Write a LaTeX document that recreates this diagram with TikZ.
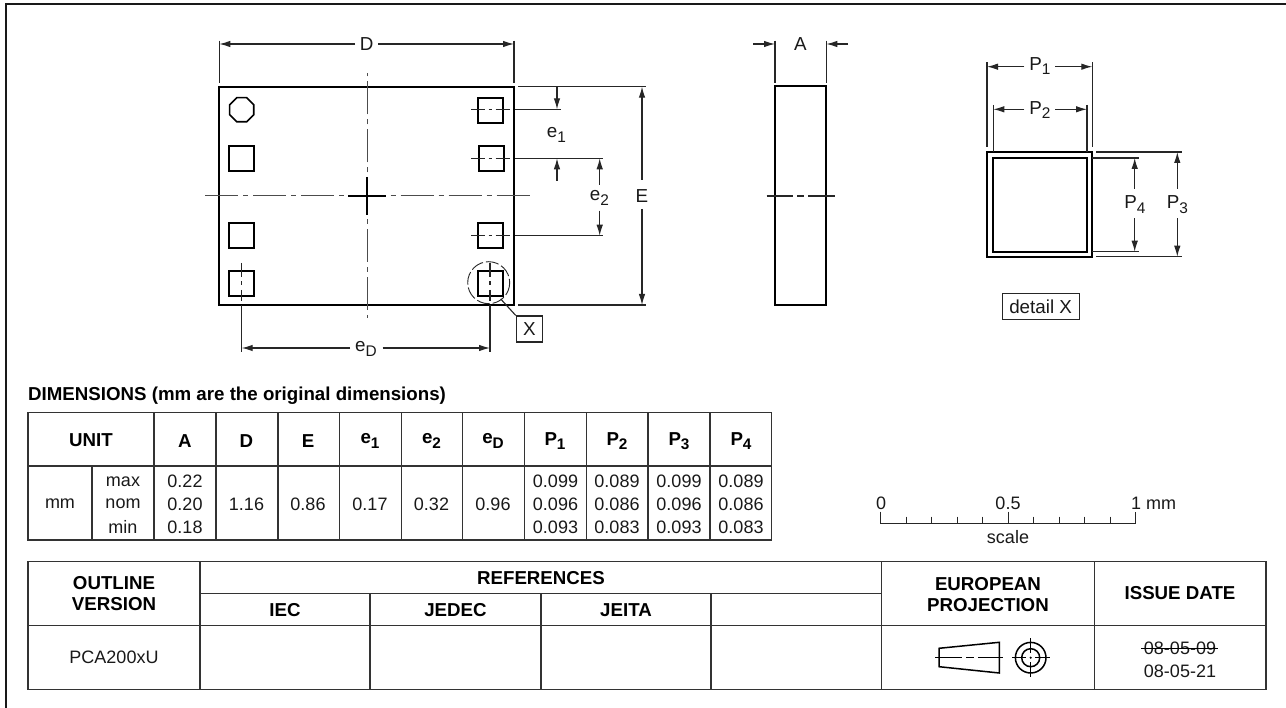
\documentclass[tikz,border=0pt]{standalone}
\usepackage{fontspec}
\setmainfont{Liberation Sans}
\usetikzlibrary{arrows.meta,shapes.geometric}
\tikzset{
  x=1pt,y=-1pt,
  body/.style={line width=1.7pt,draw=black},
  thin line/.style={line width=1.1pt,draw=black!85},
  rule/.style={line width=1.2pt,draw=black!80},
  dim/.style={line width=1.1pt,draw=black!85,-{Latex[length=11pt,width=6.5pt]}},
  centre/.style={line width=1pt,draw=black!70,dash pattern=on 33pt off 5pt on 5pt off 5pt,dash phase=14.5pt},
  lab/.style={inner sep=0pt,font=\fontsize{18.8}{22}\selectfont,text=black!90},
  cell/.style={inner sep=0pt,font=\fontsize{18}{21}\selectfont,text=black!90},
  hcell/.style={inner sep=0pt,font=\fontsize{18.7}{21}\selectfont\bfseries,text=black},
}
\newcommand{\sbs}[1]{\raisebox{-0.25em}{\fontsize{0.82em}{1em}\selectfont #1}}
\begin{document}
\begin{tikzpicture}
\useasboundingbox (0,0) rectangle (1286,708);
\fill[white] (0,0) rectangle (1286,708);
% frame
\draw[line width=2pt,black!90] (6,708) -- (6,4.5) -- (1286,4.5);
% package
\draw[body] (219.3,86.7) rectangle (514,305);
\node[regular polygon,regular polygon sides=8,draw=black,line width=1.6pt,minimum size=26pt,inner sep=0pt] (oct) at (241.7,109.7) {};
\foreach \n/\xa/\ya in {l2/229/145.7,l3/229/223.3,l4/229/270.7,r1/477.7/97.7,r2/478.7/145.7,r3/477.7/223.3,r4/477.7/270.7}{
  \draw[body] (\xa,\ya) rectangle ++(25.3,25);
}
% centre lines
\draw[centre] (367,196) -- (203,196);
\draw[centre] (367,196) -- (530,196);
\draw[centre] (367,196) -- (367,73);
\draw[centre] (367,196) -- (367,318);
\draw[line width=1.7pt,black] (348.3,196) -- (385.5,196);
\draw[line width=1.7pt,black] (367,177) -- (367,215);
% pad lines horizontal
\foreach \y/\e in {109.3/561,158.3/603,235.7/603}{
  \draw[thin line] (471,\y) -- (485,\y) (488.5,\y) -- (492,\y) (495.5,\y) -- (510,\y) (515,\y) -- (\e,\y);
}
% pad lines vertical
\foreach \x in {241.7,490}{
  \draw[thin line] (\x,263) -- (\x,276.7) (\x,281.5) -- (\x,285) (\x,290) -- (\x,301) (\x,305) -- (\x,351.7);
}
% reference lines
\draw[thin line] (518,86.7) -- (646,86.7) (518,305) -- (646,305);
% e1
\coordinate (e1t) at (557,86.7); \coordinate (e1b) at (557,181);
\draw[dim] (e1t) -- (557,109.3);
\draw[dim] (e1b) -- (557,158.3);
\node[lab] (e1) at (556.5,135) {e\sbs{1}};
% e2
\draw[dim] (599.7,185) -- (599.7,158.3);
\draw[dim] (599.7,210.7) -- (599.7,235.7);
\node[lab] (e2) at (599.5,198) {e\sbs{2}};
% E
\draw[dim] (642,180) -- (642,86.7);
\draw[dim] (642,209) -- (642,305);
\node[lab] (E) at (642,196) {E};
% D
\draw[thin line] (219.3,40.7) -- (219.3,82.7) (514,40.7) -- (514,82.7);
\draw[dim] (355,44) -- (219.3,44);
\draw[dim] (378,44) -- (514,44);
\node[lab] (D) at (366.7,44) {D};
% eD
\draw[dim] (350,348) -- (241.7,348);
\draw[dim] (382.5,348) -- (490,348);
\node[lab] (eD) at (366,349) {e\sbs{D}};
% detail circle
\draw[line width=0.9pt,black!85,dash pattern=on 13pt off 3pt] (488.7,282.7) circle (21);
\node[draw=black!85,line width=1.1pt,lab,minimum size=26pt] (X) at (529.3,329) {X};
\coordinate (xc) at (500.7,299);
\draw[thin line] (xc) -- (X.north west);
% side view
\draw[body] (775,86) rectangle (826.3,305);
\draw[thin line] (766.7,196) -- (793,196) (797,196) -- (804,196) (808,196) -- (834.7,196);
\draw[thin line] (775,40.7) -- (775,83) (826.3,40.7) -- (826.3,83);
\draw[dim] (753,44) -- (775,44);
\draw[dim] (848,44) -- (826.3,44);
\node[lab] (A) at (800.5,44) {A};
% detail
\draw[body,line width=1.9pt] (987,152) rectangle (1092.3,256.7);
\draw[body,line width=1.9pt] (993.3,158) rectangle (1087,251.7);
\draw[thin line] (987,62.5) -- (987,147) (1092.3,62.5) -- (1092.3,147);
\draw[thin line] (993.3,105) -- (993.3,152) (1087,105) -- (1087,152);
\draw[dim] (1024.3,66.7) -- (987,66.7);
\draw[dim] (1055,66.7) -- (1092.3,66.7);
\node[lab] (P1) at (1040,66) {P\sbs{1}};
\draw[dim] (1024.3,109.3) -- (993.3,109.3);
\draw[dim] (1055,109.3) -- (1087,109.3);
\node[lab] (P2) at (1040,110) {P\sbs{2}};
\draw[thin line] (1092.3,158) -- (1139,158) (1092.3,251.7) -- (1139,251.7);
\draw[dim] (1134.7,189) -- (1134.7,158);
\draw[dim] (1134.7,218.3) -- (1134.7,251.7);
\node[lab] (P4) at (1135,204.5) {P\sbs{4}};
\draw[thin line] (1096,152) -- (1181.7,152) (1096,256.7) -- (1181.7,256.7);
\draw[dim] (1177.3,189) -- (1177.3,152);
\draw[dim] (1177.3,218.3) -- (1177.3,256.7);
\node[lab] (P3) at (1177.5,204.5) {P\sbs{3}};
\node[draw=black!85,line width=1.1pt,lab,minimum width=77pt,minimum height=26pt] (dX) at (1040.6,306.3) {detail X};
% dimensions table
\node[hcell,anchor=west] (cap) at (28,396) {DIMENSIONS (mm are the original dimensions)};
\draw[rule] (28,412.7) rectangle (771.7,540);
\draw[rule] (28,466) -- (771.7,466);
\draw[rule] (92,466) -- (92,540);
\foreach \x in {154,216,278,339.5,401.5,462.5,524.5,586.5,648,710}{\draw[rule] (\x,412.7) -- (\x,540);}
\node[hcell] at (91,440) {UNIT};
\foreach \x/\t in {185/A,246.5/D,308/E,370/e\sbs{1},431.5/e\sbs{2},493/e\sbs{D},555/P\sbs{1},617/P\sbs{2},679/P\sbs{3},741/P\sbs{4}}{\node[hcell] at (\x,441) {\t};}
\node[cell] at (60,504) {mm};
\node[cell] at (123,481.7) {max};
\node[cell] at (123,504) {nom};
\node[cell] at (123,527) {min};
\foreach \x/\a/\b/\c in {185/0.22/0.20/0.18,555.5/0.099/0.096/0.093,617/0.089/0.086/0.083,679/0.099/0.096/0.093,741/0.089/0.086/0.083}{
 \node[cell] at (\x,481.7) {\a};
 \node[cell] at (\x,504) {\b};
 \node[cell] at (\x,527) {\c};
}
\foreach \x/\t in {246.5/1.16,308/0.86,370/0.17,431.5/0.32,493/0.96}{\node[cell] at (\x,504) {\t};}
% scale
\draw[line width=1.1pt,black!85] (880.7,511.7) -- (880.7,523.3) -- (1135.7,523.3) -- (1135.7,511.7);
\draw[line width=1.1pt,black!85] (1008.2,511.7) -- (1008.2,523.3);
\foreach \i in {1,2,3,4,6,7,8,9}{\draw[line width=1.1pt,black!85] (880.7+25.5*\i,516.7) -- (880.7+25.5*\i,523.3);}
\node[cell] at (881,503.5) {0};
\node[cell] at (1008,503.5) {0.5};
\node[cell,anchor=west] at (1131,503.5) {1 mm};
\node[cell] at (1008,537) {scale};
% bottom table
\draw[rule] (28,561.7) rectangle (1266,689.3);
\draw[rule] (28,625.7) -- (1266,625.7);
\draw[rule] (200,593.3) -- (881.7,593.3);
\foreach \x in {200,881.7,1094.7}{\draw[rule] (\x,561.7) -- (\x,689.3);}
\foreach \x in {370,541,711}{\draw[rule] (\x,593.3) -- (\x,689.3);}
\node[hcell] at (114,583) {OUTLINE};
\node[hcell] at (114,604.5) {VERSION};
\node[hcell] at (541,578) {REFERENCES};
\node[hcell] at (285,610) {IEC};
\node[hcell] at (455.5,610) {JEDEC};
\node[hcell] at (626,610) {JEITA};
\node[hcell] at (988,584) {EUROPEAN};
\node[hcell] at (988,605) {PROJECTION};
\node[hcell] at (1180,593.5) {ISSUE DATE};
\node[cell] at (114,657.5) {PCA200xU};
\node[cell] (d1) at (1180,648) {08-05-09};
\node[cell] (d2) at (1180,671) {08-05-21};
\draw[line width=1pt] (1141,648) -- (1218,648);
% projection symbol
\draw[line width=1.5pt] (939,648.3) -- (999.3,642.3) -- (999.3,673) -- (939,666.7) -- cycle;
\draw[line width=0.9pt] (935,657.7) -- (962,657.7) (966,657.7) -- (974,657.7) (978,657.7) -- (1003.3,657.7);
\draw[line width=1.5pt] (1030.7,657.7) circle (15.3) circle (9);
\fill (1030.7,657.7) circle (1.2);
\draw[line width=0.9pt] (1012.3,657.7) -- (1026,657.7) (1035.4,657.7) -- (1050,657.7) (1030.7,638.3) -- (1030.7,653) (1030.7,662.4) -- (1030.7,676.7);
\end{tikzpicture}
\end{document}
